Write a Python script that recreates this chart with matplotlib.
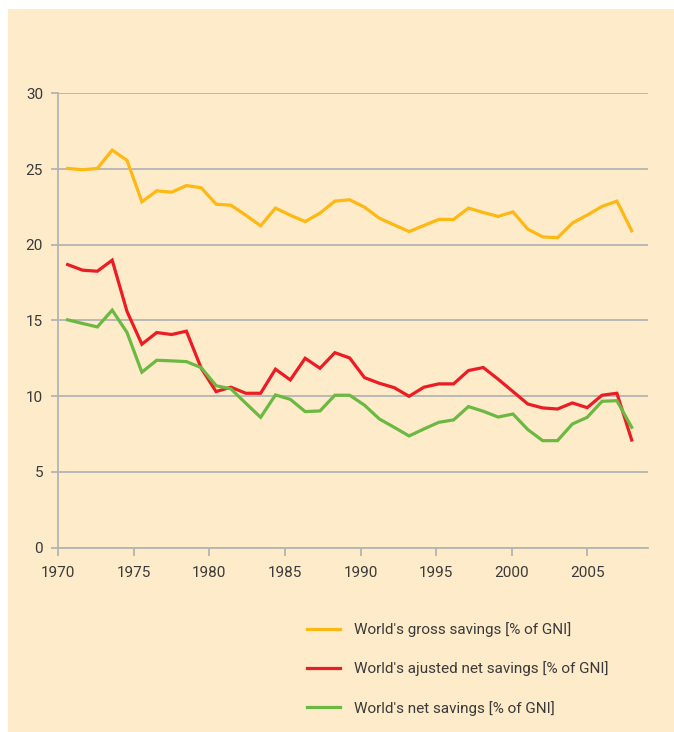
import matplotlib.pyplot as plt
import numpy as np
from matplotlib.patches import Rectangle


# Values (% of GNI), one per year 1970-2008.
years = list(range(1970, 2009))

gross_savings = [
    25.04, 24.95, 25.04, 26.25, 25.57, 22.84, 23.56, 23.47, 23.91, 23.76,
    22.68, 22.61, 21.95, 21.25, 22.42, 21.95, 21.53, 22.09, 22.88, 22.97,
    22.48, 21.75, 21.31, 20.87, 21.27, 21.67, 21.67, 22.42, 22.13, 21.87,
    22.17, 21.03, 20.52, 20.46, 21.43, 21.96, 22.53, 22.88, 20.92,
]
adjusted_net_savings = [
    18.69, 18.32, 18.25, 18.98, 15.59, 13.43, 14.20, 14.07, 14.29, 11.84,
    10.30, 10.59, 10.19, 10.19, 11.78, 11.07, 12.50, 11.84, 12.87, 12.52,
    11.22, 10.85, 10.56, 9.99, 10.59, 10.81, 10.81, 11.69, 11.89, 11.12,
    10.30, 9.48, 9.22, 9.15, 9.55, 9.24, 10.06, 10.19, 7.10,
]
net_savings = [
    15.04, 14.80, 14.57, 15.68, 14.20, 11.58, 12.37, 12.33, 12.28, 11.88,
    10.69, 10.48, 9.53, 8.60, 10.08, 9.79, 8.98, 9.02, 10.06, 10.06,
    9.40, 8.49, 7.94, 7.37, 7.83, 8.27, 8.43, 9.31, 9.00, 8.62,
    8.82, 7.79, 7.06, 7.06, 8.16, 8.60, 9.66, 9.70, 7.94,
]

tick_labels = ["1970", "1975", "1980", "1985", "1990", "1995", "2000", "2005"]
series_labels = [
    "World's gross savings [% of GNI]",
    "World's ajusted net savings [% of GNI]",
    "World's net savings [% of GNI]",
]

BEIGE = "#fdebc9"
GRID = "#b4b4b4"
TEXT = "#3a3a3a"
COLORS = ["#fdb813", "#ec1c24", "#6bb843"]

plt.rcParams["font.family"] = ["Roboto", "DejaVu Sans"]

fig = plt.figure(figsize=(6.74, 7.32), dpi=100)
fig.patch.set_facecolor("white")
fig.patches.append(
    Rectangle((8 / 674, 0), 1, 1 - 9 / 732, transform=fig.transFigure,
              facecolor=BEIGE, edgecolor="none", zorder=-10)
)

ax = fig.add_axes([0.0865, 0.252, 0.875, 0.6205])
ax.set_facecolor("none")

for values, color, label in zip(
    [gross_savings, adjusted_net_savings, net_savings], COLORS, series_labels
):
    ax.plot(years, values, color=color, linewidth=2.3, label=label,
            solid_joinstyle="miter", zorder=3)

# The source's category axis sits slightly off the yearly points.
tick_pos = 1969.37 + np.arange(len(tick_labels)) * 5.09
ax.set_xticks(tick_pos)
ax.set_xticklabels(tick_labels)
ax.set_xlim(1969.37, 2009.1)

ax.set_ylim(0, 30)
ax.set_yticks(np.arange(0, 31, 5))
ax.yaxis.grid(True, color=GRID, linewidth=1.3)
ax.set_axisbelow(True)

for side in ["top", "right"]:
    ax.spines[side].set_visible(False)
for side in ["left", "bottom"]:
    ax.spines[side].set_color(GRID)
    ax.spines[side].set_linewidth(1.3)

ax.tick_params(axis="both", colors=GRID, labelcolor=TEXT, labelsize=11,
               width=1.3)
ax.tick_params(axis="y", length=5, pad=6)
ax.tick_params(axis="x", length=6, pad=7)

fig.legend(
    loc="upper left",
    bbox_to_anchor=(307 / 674, 1 - 622 / 732),
    frameon=False,
    fontsize=11,
    handlelength=2.15,
    handletextpad=0.95,
    labelspacing=1.6,
    borderpad=0,
    borderaxespad=0,
    labelcolor=TEXT,
)
for line in fig.legends[0].get_lines():
    line.set_linewidth(2.3)

fig.savefig("out.png", dpi=100, facecolor=fig.get_facecolor())
